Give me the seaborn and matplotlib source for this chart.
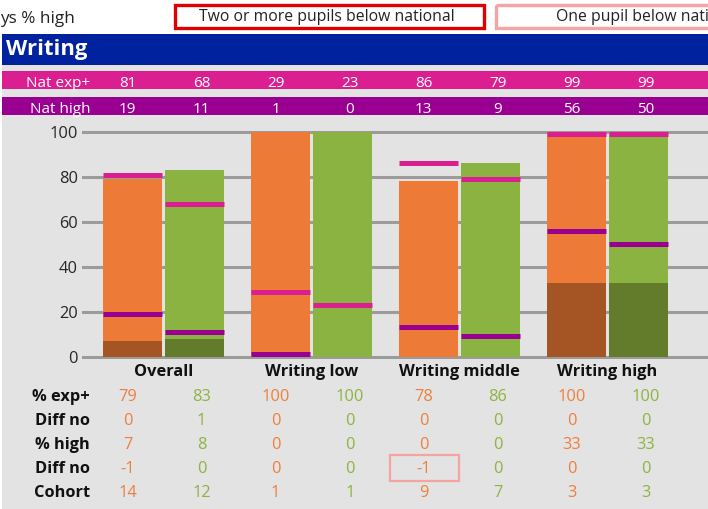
import matplotlib.pyplot as plt
import matplotlib.patches as mpatches
import seaborn as sns
import pandas as pd

# dados
categories = ["Overall", "Writing low", "Writing middle", "Writing high"]
groups = ["A", "B"]

exp_a = [79, 100, 78, 100]
exp_b = [83, 100, 86, 100]
high_a = [7, 0, 0, 33]
high_b = [8, 0, 0, 33]
nat_exp_a = [81, 29, 86, 99]
nat_exp_b = [68, 23, 79, 99]
nat_high_a = [19, 1, 13, 56]
nat_high_b = [11, 0, 9, 50]
diff_exp_a = [0, 0, 0, 0]
diff_exp_b = [1, 0, 0, 0]
diff_high_a = [-1, 0, -1, 0]
diff_high_b = [0, 0, 0, 0]
cohort_a = [14, 1, 9, 3]
cohort_b = [12, 1, 7, 3]
y_ticks = [0, 20, 40, 60, 80, 100]


def pairs(a, b):
    return [v for pair in zip(a, b) for v in pair]


dados = pd.DataFrame({
    "categoria": [c for c in categories for _ in groups],
    "grupo": groups * len(categories),
    "exp": pairs(exp_a, exp_b),
    "high": pairs(high_a, high_b),
    "nat_exp": pairs(nat_exp_a, nat_exp_b),
    "nat_high": pairs(nat_high_a, nat_high_b),
})

ORANGE, GREEN = "#ED7B37", "#8BB341"
DARK_ORANGE, DARK_GREEN = "#A55524", "#627C2B"
TXT_ORANGE, TXT_GREEN = "#EE7E3C", "#8DB341"
MAGENTA, PURPLE = "#DB1F91", "#990092"
BLUE, GRAY = "#00229E", "#E3E3E3"
RED, PINK = "#E00000", "#F5A3A3"

plt.rcParams['font.family'] = ['Open Sans', 'DejaVu Sans']

W, H = 708, 509
fig = plt.figure(figsize=(W / 100, H / 100), dpi=100)

# === fundo, faixas e tabela (coordenadas em pixels) ===
bg = fig.add_axes([0, 0, 1, 1])
bg.set_xlim(0, W)
bg.set_ylim(H, 0)
bg.axis("off")


def box(x0, y0, x1, y1, **kw):
    bg.add_patch(mpatches.Rectangle((x0, y0), x1 - x0, y1 - y0, **kw))


box(2, 65, W, H, color=GRAY, lw=0)
box(2, 34, W, 65, color=BLUE, lw=0)
box(2, 70.7, W, 89.3, color=MAGENTA, lw=0)
box(2, 96.7, W, 115, color=PURPLE, lw=0)
box(174.5, 4.5, 484, 28, fill=False, ec=RED, lw=2.4)
box(495.5, 4.5, 830, 28, fill=False, ec=PINK, lw=2.4)

bg.text(0, 22.7, "ys % high", fontsize=12.3, color="#222222", va="baseline")
bg.text(327, 20.7, "Two or more pupils below national", fontsize=11.3,
        color="#222222", ha="center", va="baseline")
# o texto da segunda legenda fica cortado na borda, como no original
bg.text(556, 20.7, "One pupil below national", fontsize=11.3,
        color="#222222", ha="left", va="baseline")
bg.text(6, 55, "Writing", fontsize=15.8, fontweight="bold", color="white", va="baseline")

col_x = [127.5 + 74.07 * i for i in range(8)]

bg.text(90, 87.3, "Nat exp+", fontsize=11, color="white", ha="right", va="baseline")
bg.text(90, 112.7, "Nat high", fontsize=11, color="white", ha="right", va="baseline")
for x, ne, nh in zip(col_x, dados["nat_exp"], dados["nat_high"]):
    bg.text(x, 87.3, str(ne), fontsize=11, color="white", ha="center", va="baseline")
    bg.text(x, 112.7, str(nh), fontsize=11, color="white", ha="center", va="baseline")

rows = [
    ("% exp+", pairs(exp_a, exp_b)),
    ("Diff no", pairs(diff_exp_a, diff_exp_b)),
    ("% high", pairs(high_a, high_b)),
    ("Diff no", pairs(diff_high_a, diff_high_b)),
    ("Cohort", pairs(cohort_a, cohort_b)),
]
for k, (label, values) in enumerate(rows):
    y = 401 + 24 * k
    bg.text(90, y, label, fontsize=11.8, fontweight="bold", color="#111111",
            ha="right", va="baseline")
    for i, (x, v) in enumerate(zip(col_x, values)):
        bg.text(x, y, str(v), fontsize=11.8, color=TXT_ORANGE if i % 2 == 0 else TXT_GREEN,
                ha="center", va="baseline")

# destaque "One pupil below national"
box(390, 454.5, 459, 480.5, fill=False, ec=PINK, lw=1.6)

# === gráfico de barras ===
ax = fig.add_axes([82 / W, (H - 358.5) / H, 1 - 82 / W, (358.5 - 127.5) / H])
ax.patch.set_alpha(0)

sns.barplot(data=dados, x="categoria", y="exp", hue="grupo", palette=[ORANGE, GREEN],
            saturation=1, width=0.84, gap=0.05, errorbar=None, legend=False, ax=ax,
            linewidth=0)
bars = sorted(ax.patches, key=lambda p: p.get_x())
sns.barplot(data=dados, x="categoria", y="high", hue="grupo",
            palette=[DARK_ORANGE, DARK_GREEN], saturation=1,
            width=0.84, gap=0.05, errorbar=None, legend=False, ax=ax, linewidth=0)

for bar, ne, nh in zip(bars, dados["nat_exp"], dados["nat_high"]):
    x0, x1 = bar.get_x(), bar.get_x() + bar.get_width()
    ax.hlines(ne, x0, x1, colors=MAGENTA, lw=3.6, capstyle="butt", zorder=3)
    if nh > 0:
        ax.hlines(nh, x0, x1, colors=PURPLE, lw=3.6, capstyle="butt", zorder=3)

ax.set_xlim(-0.551, 3.679)
ax.set_ylim(-0.8, 102)
ax.set_yticks(y_ticks)
ax.grid(axis="y", color="#9B9B9B", lw=2.2)
ax.grid(axis="x", visible=False)
ax.set_axisbelow(True)
for s in ax.spines.values():
    s.set_visible(False)
ax.set_xlabel("")
ax.set_ylabel("")
ax.tick_params(axis="x", length=0, pad=4, labelsize=11.8, labelcolor="#111111")
ax.tick_params(axis="y", length=0, pad=3, labelsize=11.8, labelcolor="#262626")
for t in ax.get_xticklabels():
    t.set_fontweight("bold")

fig.savefig("out.png", dpi=100)
